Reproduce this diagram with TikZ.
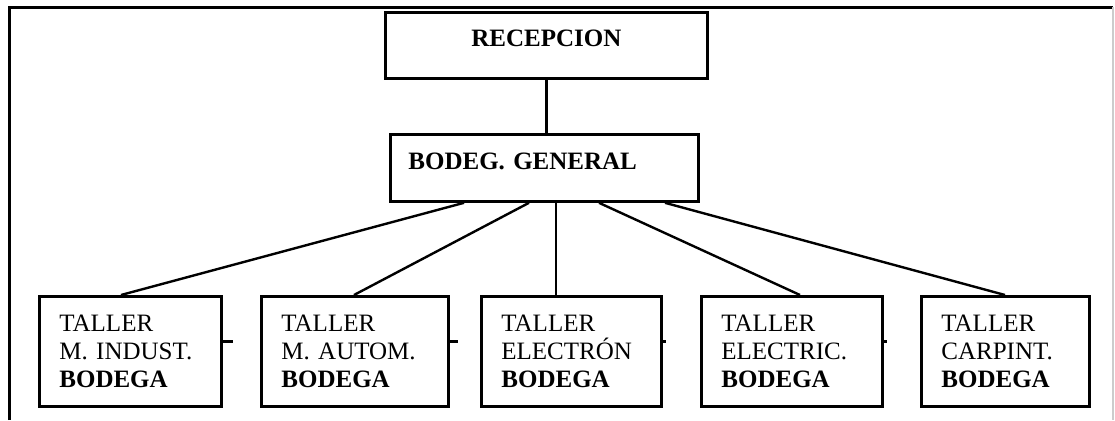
\documentclass[tikz,border=0pt]{standalone}
\usepackage{fontspec}
\setmainfont{Liberation Serif}
\tikzset{
    caja/.style={draw, line width=1.4pt, inner ysep=0pt, anchor=north west},
    taller/.style={draw, line width=1.4pt, anchor=north west, align=left,
        inner xsep=10pt, inner ysep=0pt, minimum height=55pt},
    linea/.style={line width=1.2pt}
}
\begin{document}
\begin{tikzpicture}[x=0.5pt, y=-0.5pt, font=\fontsize{12.5}{14}\selectfont]
    \useasboundingbox (0,0) rectangle (1115,420);
    % Frame
    \draw[line width=1.5pt] (9,420) -- (9,7) -- (1113,7);
    \draw[gray!40, line width=0.6pt] (1113,7) -- (1113,420);

    % Top boxes
    \node[caja, minimum width=161pt, text height=17pt, text depth=16pt] (recep) at (384,11) {\textbf{RECEPCION}};
    \node[caja, align=left, inner xsep=9pt, text width=136pt, text height=17.5pt, text depth=16pt] (gen) at (389,133) {\textbf{BODEG. GENERAL}};
    \draw[linea] (recep.south) -- (recep.south |- gen.north);

    % Talleres
    \foreach \n/\x/\w/\lbl/\a/\b in {1/38/91/M. INDUST./37.5/41.5, 2/260/93.5/M. AUTOM./70/47,
        3/480/90/ELECTRÓN/83.5/38, 4/700/90.5/ELECTRIC./105/50, 5/920/84/CARPINT./138/42.5} {
        \pgfmathsetmacro{\tw}{\w-20}
        \node[taller, text width=\tw pt] (t\n) at (\x,295) {TALLER\\\lbl\\\textbf{BODEGA}};
        \draw[linea] ([xshift=\a pt]gen.south west) -- ([xshift=\b pt]t\n.north west);
    }
    \foreach \n/\len in {1/5, 2/4, 3/1.5, 4/1.5} {
        \draw[linea] ([yshift=5pt]t\n.east) -- ++(\len pt,0);
    }
\end{tikzpicture}
\end{document}
